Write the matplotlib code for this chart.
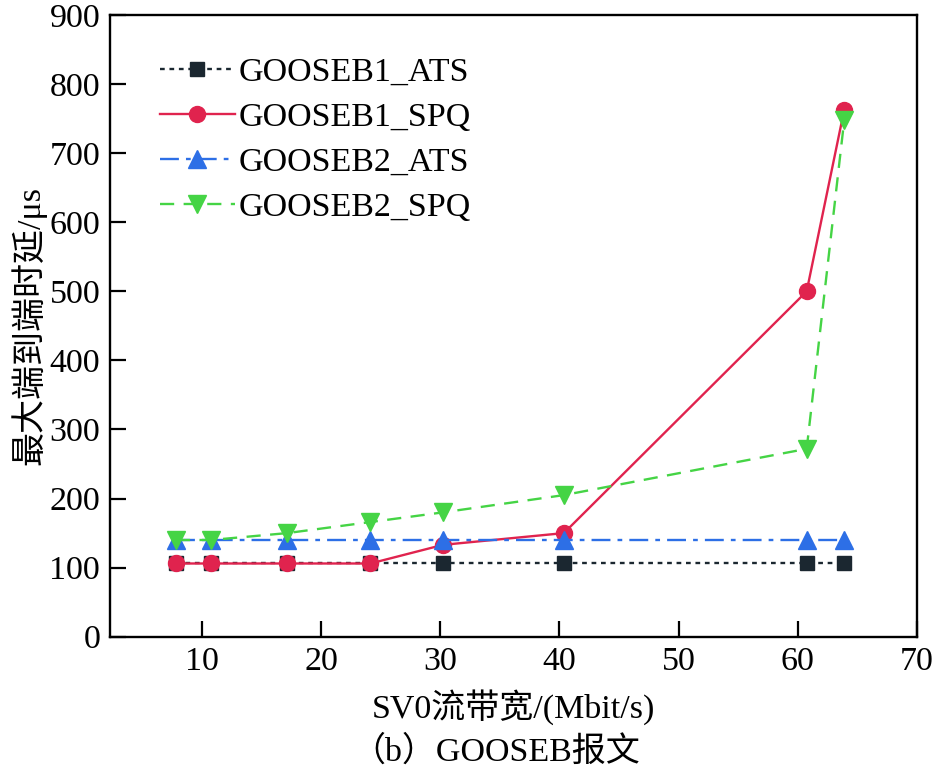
import matplotlib
matplotlib.use("Agg")
import matplotlib.pyplot as plt

plt.rcParams['font.family'] = ['Liberation Serif', 'Noto Sans CJK SC', 'DejaVu Sans']
plt.rcParams['mathtext.fontset'] = 'stix'

# SV0 stream bandwidth (Mbit/s)
bw = [7.83, 10.77, 17.16, 24.15, 30.24, 40.38, 60.75, 63.9]
# max end-to-end delay (us)
gb1_ats = [106, 106, 106, 106, 106, 106, 106, 106]
gb1_spq = [106, 106, 106, 106, 133, 150, 500, 763]
gb2_ats = [140, 140, 140, 140, 140, 140, 140, 140]
gb2_spq = [140, 140, 150, 166, 180, 205, 272, 748]
labels = ['GOOSEB1_ATS', 'GOOSEB1_SPQ', 'GOOSEB2_ATS', 'GOOSEB2_SPQ']

fs = 24.5
fig = plt.figure(figsize=(9.35, 7.7), dpi=100)
ax = fig.add_axes([0.1176, 0.1731, 0.8631, 0.8074])

ax.plot(bw, gb1_ats, color='#1b2730', linestyle=(0, (2, 2)), lw=1.7,
        marker='s', ms=10.5, label=labels[0])
ax.plot(bw, gb1_spq, color='#e0234e', linestyle='-', lw=1.7,
        marker='o', ms=11.5, label=labels[1])
ax.plot(bw, gb2_ats, color='#2d6fe6', linestyle=(0, (8, 3, 2, 3)), lw=1.7,
        marker='^', ms=12.5, label=labels[2])
ax.plot(bw, gb2_spq, color='#45d445', linestyle=(0, (6, 4)), lw=1.7,
        marker='v', ms=12.5, label=labels[3])

ax.set_xlim(2.3, 70)
ax.set_ylim(0, 900)
ax.set_xticks([10, 20, 30, 40, 50, 60, 70])
ax.set_yticks(range(0, 901, 100))
ax.tick_params(direction='in', length=11.5, width=1.6, labelsize=fs,
               top=False, right=False, pad=7)
for s in ax.spines.values():
    s.set_linewidth(1.7)

ax.set_xlabel('SV0流带宽/(Mbit/s)', fontsize=fs, labelpad=9)
ax.set_ylabel('最大端到端时延/μs', fontsize=fs, labelpad=2)
fig.text(0.53, 0.012, '（b）GOOSEB报文', fontsize=fs, ha='center')

ax.legend(loc='upper left', bbox_to_anchor=(0.045, 0.955), frameon=False,
          fontsize=fs, handlelength=2.2, handletextpad=0.1, labelspacing=0.42,
          borderaxespad=0)

fig.savefig('out.png', dpi=100)
